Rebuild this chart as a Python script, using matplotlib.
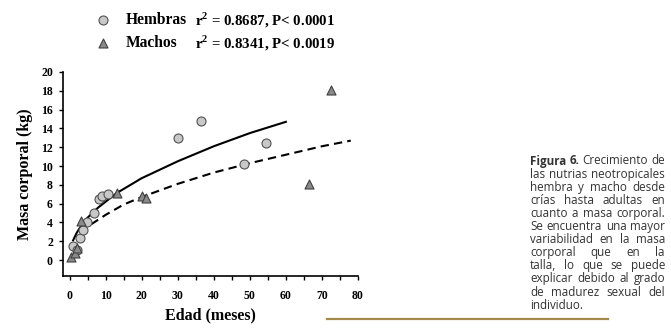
import matplotlib
matplotlib.use("Agg")
import matplotlib.pyplot as plt
from matplotlib.lines import Line2D

# data
hembras_edad = [0.9, 2.2, 2.8, 3.7, 4.8, 6.7, 8.2, 9.1, 10.6, 30.2, 36.5, 48.4, 54.4]
hembras_masa = [1.5, 1.1, 2.3, 3.2, 4.0, 5.0, 6.5, 6.8, 7.0, 13.0, 14.8, 10.2, 12.5]
machos_edad = [0.4, 1.6, 2.0, 3.2, 13.2, 20.1, 21.1, 66.5, 72.4]
machos_masa = [0.3, 0.7, 1.25, 4.15, 7.1, 6.8, 6.6, 8.1, 18.1]

# fitted curves, points
curva_h_edad = [1, 2, 3, 5, 8, 13, 20, 30, 40, 50, 60]
curva_h_masa = [2.1, 2.9, 3.5, 4.5, 5.6, 7.1, 8.7, 10.5, 12.1, 13.5, 14.7]
curva_m_edad = [6, 8, 10, 15, 20, 30, 40, 50, 60, 70, 78]
curva_m_masa = [3.8, 4.3, 4.8, 5.9, 6.7, 8.1, 9.3, 10.3, 11.2, 12.1, 12.7]

etiquetas = ["Hembras", "Machos"]
estadisticos = [r"r$^{\mathbf{2}}$ = 0.8687, P< 0.0001",
                r"r$^{\mathbf{2}}$ = 0.8341, P< 0.0019"]

caption = [
    "Figura 6. Crecimiento de",
    "las nutrias neotropicales",
    "hembra y macho desde",
    "crías hasta adultas en",
    "cuanto a masa corporal.",
    "Se encuentra una mayor",
    "variabilidad en la masa",
    "corporal que en la",
    "talla, lo que se puede",
    "explicar debido al grado",
    "de madurez sexual del",
    "individuo.",
]

plt.rcParams["font.family"] = ["Liberation Serif", "DejaVu Serif"]
plt.rcParams["font.weight"] = "bold"
plt.rcParams["mathtext.fontset"] = "custom"
plt.rcParams["mathtext.rm"] = "Liberation Serif:bold"
plt.rcParams["mathtext.bf"] = "Liberation Serif:bold"

fig = plt.figure(figsize=(6.71, 3.28), dpi=100)
ax = fig.add_axes([0.0934, 0.1585, 0.4401, 0.622])

ax.plot(curva_h_edad, curva_h_masa, color="black", lw=1.5, zorder=2)
ax.plot(curva_m_edad, curva_m_masa, color="black", lw=1.5, dashes=(4, 2.5), zorder=2)
h = ax.scatter(hembras_edad, hembras_masa, s=42, marker="o", facecolor="#c8c8c8",
               edgecolor="#505050", linewidth=0.8, zorder=3)
m = ax.scatter(machos_edad, machos_masa, s=42, marker="^", facecolor="#8a8a8a",
               edgecolor="#404040", linewidth=0.8, zorder=3)

ax.set_xlim(-1.9, 80)
ax.set_ylim(-1.7, 20)
ax.set_xticks(range(0, 81, 10))
ax.set_xticks(range(0, 81, 5), minor=True)
ax.set_yticks(range(0, 21, 2))
ax.spines["top"].set_visible(False)
ax.spines["right"].set_visible(False)
for s in ("left", "bottom"):
    ax.spines[s].set_linewidth(1.2)
ax.tick_params(axis="both", which="both", direction="out", length=3, width=1,
               labelsize=8.5, pad=4)
ax.tick_params(axis="x", pad=7)
ax.set_xlabel("Edad (meses)", fontsize=11.5, fontweight="bold", labelpad=4)
ax.set_ylabel("Masa corporal (kg)", fontsize=11.5, fontweight="bold", labelpad=6)

# legend block
fig.legend([h, m], etiquetas, loc="upper left", bbox_to_anchor=(0.1416, 0.962),
           frameon=False, prop={"size": 11.2, "weight": "bold"},
           borderpad=0, borderaxespad=0, handlelength=1.0,
           handletextpad=1.0, labelspacing=0.43, scatterpoints=1)
for i, txt in enumerate(estadisticos):
    fig.text(0.291, 0.938 - i * 0.07, txt, fontsize=10.7, fontweight="bold",
             va="center", ha="left")

# justified caption on the right
left, right = 530 / 671, 665 / 671
y0, dy = 1 - 161 / 328, 13.1 / 328
fig.canvas.draw()
r = fig.canvas.get_renderer()
W = fig.bbox.width
for i, line in enumerate(caption):
    words = line.split()
    texts = []
    for j, w in enumerate(words):
        bold = i == 0 and j < 2
        t = fig.text(0, y0 - i * dy, w, fontsize=8.35, family="Open Sans",
                     fontweight="bold" if bold else "normal", color="#333333",
                     va="center", ha="left")
        texts.append(t)
    widths = [t.get_window_extent(r).width / W for t in texts]
    if i == len(caption) - 1 or len(words) == 1:
        gap = 3.5 / W
    else:
        gap = max((right - left - sum(widths)) / (len(words) - 1), 2.5 / W)
    x = left
    for t, wd in zip(texts, widths):
        t.set_x(x)
        x += wd + gap

fig.add_artist(Line2D([327 / 671, 608 / 671], [1 - 319 / 328, 1 - 319 / 328],
                      color="#a5894a", lw=1.6))

fig.savefig("out.png", dpi=100)
